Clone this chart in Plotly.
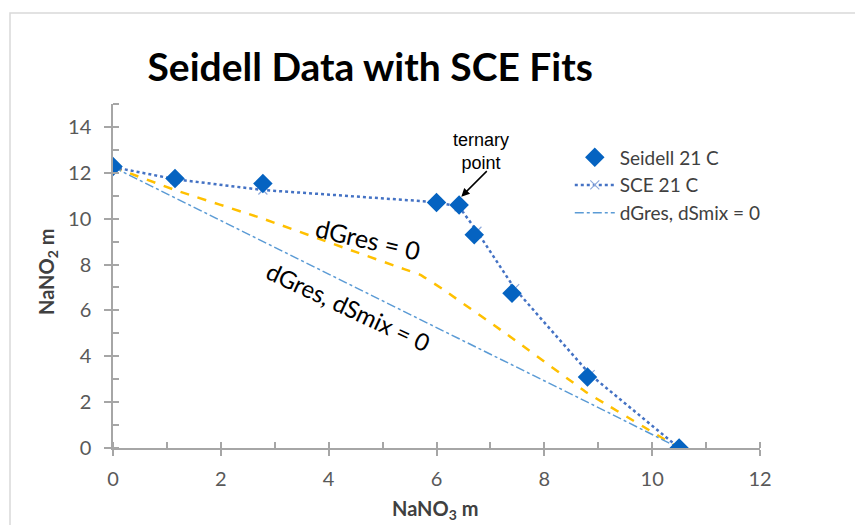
import plotly.graph_objects as go

# Seidell 21 C data
seidell_x = [0.0, 1.15, 2.78, 6.0, 6.42, 6.7, 7.4, 8.8, 10.5]
seidell_y = [12.28, 11.75, 11.53, 10.7, 10.6, 9.3, 6.75, 3.1, 0.0]

# SCE 21 C fit
sce_x = [0.0, 1.15, 2.78, 6.0, 6.42, 6.75, 7.45, 8.85, 10.5]
sce_y = [12.25, 11.72, 11.25, 10.72, 10.52, 9.45, 6.95, 3.2, 0.0]

# dGres = 0 curve
dg_x = [0.0, 1.15, 2.78, 4.5, 5.4, 5.7, 6.1, 7.4, 8.8, 10.5]
dg_y = [12.25, 11.25, 10.0, 8.55, 7.8, 7.55, 6.95, 4.8, 2.4, 0.0]

# dGres, dSmix = 0 curve
dgs_x = [0.0, 2.78, 6.0, 8.8, 10.5]
dgs_y = [12.25, 9.0, 5.25, 2.0, 0.0]

x_ticks = [0, 2, 4, 6, 8, 10, 12]
y_ticks = [0, 2, 4, 6, 8, 10, 12, 14]

FONT = "Lato"
TICK_COLOR = "#595959"
AXIS_COLOR = "#a6a6a6"

fig = go.Figure()

fig.add_trace(go.Scatter(
    x=dg_x, y=dg_y, mode="lines", name="dGres = 0", showlegend=False,
    line=dict(color="#FFC000", width=2.5, dash="dash", shape="spline", smoothing=0.2),
))
fig.add_trace(go.Scatter(
    x=dgs_x, y=dgs_y, mode="lines", name="dGres, dSmix = 0", legendrank=3,
    line=dict(color="#5B9BD5", width=1.5, dash="dashdot"),
))
fig.add_trace(go.Scatter(
    x=sce_x, y=sce_y, mode="lines+markers", name="SCE 21 C", legendrank=2,
    line=dict(color="#4472C4", width=2.5, dash="dot"),
    marker=dict(symbol="x-thin", size=9, line=dict(color="#8FAADC", width=1.2)),
))
fig.add_trace(go.Scatter(
    x=seidell_x, y=seidell_y, mode="markers", name="Seidell 21 C", legendrank=1,
    marker=dict(symbol="diamond", size=15, color="#0563C1"),
))

# overlay axes for crossing major ticks
fig.add_trace(go.Scatter(x=[0], y=[0], xaxis="x2", yaxis="y2", mode="markers",
                         marker=dict(opacity=0), showlegend=False, hoverinfo="skip"))

axis_common = dict(showgrid=False, zeroline=False, showline=True, linecolor=AXIS_COLOR,
                   linewidth=1.5, tickcolor=AXIS_COLOR, tickwidth=1.5,
                   tickfont=dict(family=FONT, size=20, color=TICK_COLOR))

fig.update_layout(
    width=855, height=525,
    margin=dict(l=113, r=95, t=104, b=77),
    paper_bgcolor="white", plot_bgcolor="white",
    xaxis=dict(range=[0, 12], tickvals=x_ticks, ticks="outside", ticklen=6,
               minor=dict(dtick=1, ticks="inside", ticklen=6, tickcolor=AXIS_COLOR, tickwidth=1.5),
               ticklabelstandoff=6, **axis_common),
    yaxis=dict(range=[0, 15], tickvals=y_ticks, ticks="outside", ticklen=7,
               minor=dict(dtick=1, ticks="inside", ticklen=6, tickcolor=AXIS_COLOR, tickwidth=1.5),
               ticklabelstandoff=9, **axis_common),
    xaxis2=dict(range=[0, 12], overlaying="x", tickvals=x_ticks, ticks="inside", ticklen=6,
                showticklabels=False, showline=False, showgrid=False, zeroline=False,
                tickcolor=AXIS_COLOR, tickwidth=1.5, side="bottom"),
    yaxis2=dict(range=[0, 15], overlaying="y", tickvals=y_ticks, ticks="inside", ticklen=6,
                showticklabels=False, showline=False, showgrid=False, zeroline=False,
                tickcolor=AXIS_COLOR, tickwidth=1.5, side="left"),
    title=dict(text="<b>Seidell Data with SCE Fits</b>", x=0.433, xanchor="center",
               y=0.872, yanchor="middle", font=dict(family=FONT, size=39, color="black")),
    legend=dict(x=0.706, y=0.9, xanchor="left", yanchor="top", bgcolor="rgba(0,0,0,0)",
                font=dict(family=FONT, size=19, color="#404040"), tracegroupgap=0,
                itemwidth=40),
    showlegend=True,
)

# chart frame
fig.add_shape(type="rect", xref="paper", yref="paper",
              x0=(10 - 113) / 647, x1=(870 - 113) / 647,
              y0=(448 - 540) / 344, y1=(448 - 13) / 344,
              line=dict(color="#d9d9d9", width=1.5), fillcolor="rgba(0,0,0,0)", layer="below")

# axis titles
fig.add_annotation(text="<b>NaNO<sub>3</sub> m</b>", xref="paper", yref="paper",
                   x=0.497, y=(448 - 510) / 344, xanchor="center", yanchor="middle",
                   showarrow=False, font=dict(family=FONT, size=20, color="#404040"))
fig.add_annotation(text="<b>NaNO<sub>2</sub> m</b>", xref="paper", yref="paper",
                   x=(47 - 113) / 647, y=(448 - 272) / 344, xanchor="center", yanchor="middle",
                   showarrow=False, textangle=-90,
                   font=dict(family=FONT, size=20, color="#404040"))

# text annotations
fig.add_annotation(text="ternary<br>point", x=6.82, y=12.95, showarrow=False,
                   font=dict(family="Liberation Sans", size=18, color="black"))
fig.add_annotation(text="", x=6.46, y=10.96, ax=27, ay=-27, showarrow=True,
                   arrowhead=2, arrowsize=1.1, arrowwidth=1.5, arrowcolor="black")
fig.add_annotation(text="dGres = 0", x=4.73, y=9.12, showarrow=False, textangle=13,
                   font=dict(family=FONT, size=25, color="black"))
fig.add_annotation(text="dGres, dSmix = 0", x=4.36, y=6.18, showarrow=False, textangle=25,
                   font=dict(family=FONT, size=24, color="black"))

fig.write_html("out.html")
